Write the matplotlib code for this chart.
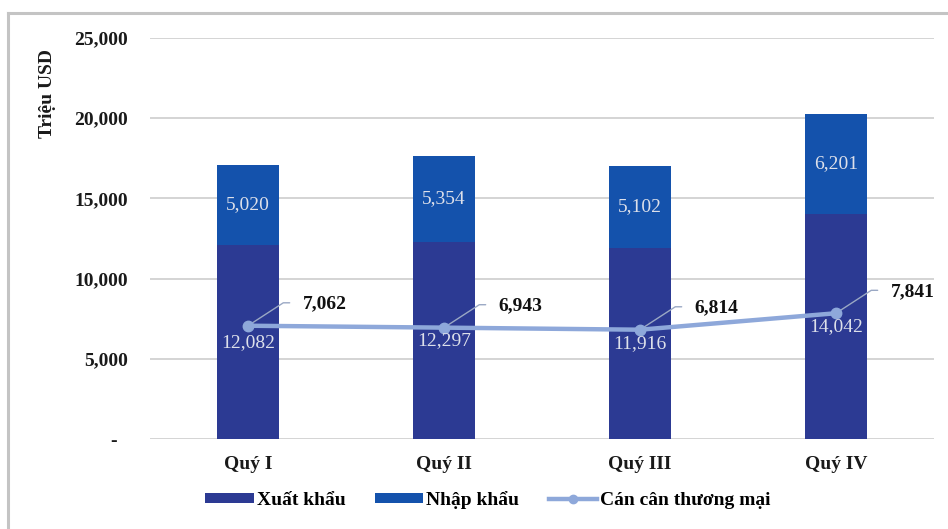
import matplotlib
matplotlib.use("Agg")
import matplotlib.pyplot as plt
from matplotlib.lines import Line2D
from matplotlib.patches import Patch

# Quarterly trade figures (million USD)
quarters = ["Quý I", "Quý II", "Quý III", "Quý IV"]
exports = [12082, 12297, 11916, 14042]
imports = [5020, 5354, 5102, 6201]
balance = [7062, 6943, 6814, 7841]

y_ticks = [0, 5000, 10000, 15000, 20000, 25000]
y_tick_labels = ["-  ", "5,000", "10,000", "15,000", "20,000", "25,000"]

series_names = ["Xuất khẩu", "Nhập khẩu", "Cán cân thương mại"]
y_title = "Triệu USD"

c_exp = "#2C3A93"
c_imp = "#1452AC"
c_bal = "#8EA8DA"
fs = 14

plt.rcParams["font.family"] = ["Liberation Serif", "DejaVu Serif"]

fig = plt.figure(figsize=(9.48, 5.29), dpi=100)
ax = fig.add_axes([150 / 948, 1 - 439 / 529, (934 - 150) / 948, (439 - 38) / 529])

x = list(range(len(quarters)))
bw = 0.316
ax.bar(x, exports, width=bw, color=c_exp, zorder=2)
ax.bar(x, imports, width=bw, bottom=exports, color=c_imp, zorder=2)
ax.plot(x, balance, color=c_bal, lw=3.2, marker="o", ms=7.5, zorder=4,
        solid_capstyle="round")

# values inside the stacked segments
for xi, e, im in zip(x, exports, imports):
    ax.text(xi, e / 2, f"{e:,}", ha="center", va="center", fontsize=fs,
            color="#DDE0EA", zorder=5)
    ax.text(xi, e + im / 2, f"{im:,}", ha="center", va="center", fontsize=fs,
            color="#DDE0EA", zorder=5)

# trade balance labels with leader lines
for xi, b in zip(x, balance):
    ax.annotate("", xy=(xi, b), xycoords="data", xytext=(30, 16.5),
                textcoords="offset points",
                arrowprops=dict(arrowstyle="-", color="#9AA8C4", lw=1.0,
                                shrinkA=0, shrinkB=4,
                                connectionstyle="angle,angleA=0,angleB=33,rad=0"),
                zorder=3)
    ax.annotate(f"{b:,}", xy=(xi, b), xycoords="data", xytext=(39.5, 15.5),
                textcoords="offset points", ha="left", va="center",
                fontsize=fs, fontweight="bold", color="#111111", zorder=5)

ax.set_xlim(-0.5, 3.5)
ax.set_ylim(0, 25000)
ax.set_yticks(y_ticks)
ax.set_yticklabels(y_tick_labels)
ax.set_xticks(x)
ax.set_xticklabels(quarters)
ax.tick_params(axis="y", length=0, pad=16, labelsize=fs)
ax.tick_params(axis="x", length=0, pad=12, labelsize=fs)
for lab in ax.get_yticklabels() + ax.get_xticklabels():
    lab.set_fontweight("bold")
    lab.set_color("#1A1A1A")

ax.grid(axis="y", color="#D4D4D4", lw=1.4, zorder=0)
ax.set_axisbelow(True)
for s in ax.spines.values():
    s.set_visible(False)

fig.text(48 / 948, 1 - 93 / 529, y_title, rotation=90, ha="center",
         va="center", fontsize=fs, fontweight="bold", color="#1A1A1A")

handles = [
    Patch(facecolor=c_exp, edgecolor="none"),
    Patch(facecolor=c_imp, edgecolor="none"),
    Line2D([], [], color=c_bal, lw=3.2, marker="o", ms=6),
]
leg = fig.legend(handles, series_names, loc="center", ncol=3,
                 bbox_to_anchor=(488 / 948, 1 - 500 / 529), frameon=False,
                 handlelength=2.5, handleheight=0.45,
                 handletextpad=0.15, columnspacing=1.5,
                 prop={"weight": "bold", "size": fs})

# outer frame
fig.add_artist(Line2D([8 / 948, 1.0], [1 - 13 / 529, 1 - 13 / 529],
                      transform=fig.transFigure, color="#C4C4C4", lw=2.2))
fig.add_artist(Line2D([8 / 948, 8 / 948], [0.0, 1 - 13 / 529],
                      transform=fig.transFigure, color="#C4C4C4", lw=2.2))

fig.savefig("out.png", dpi=100)
